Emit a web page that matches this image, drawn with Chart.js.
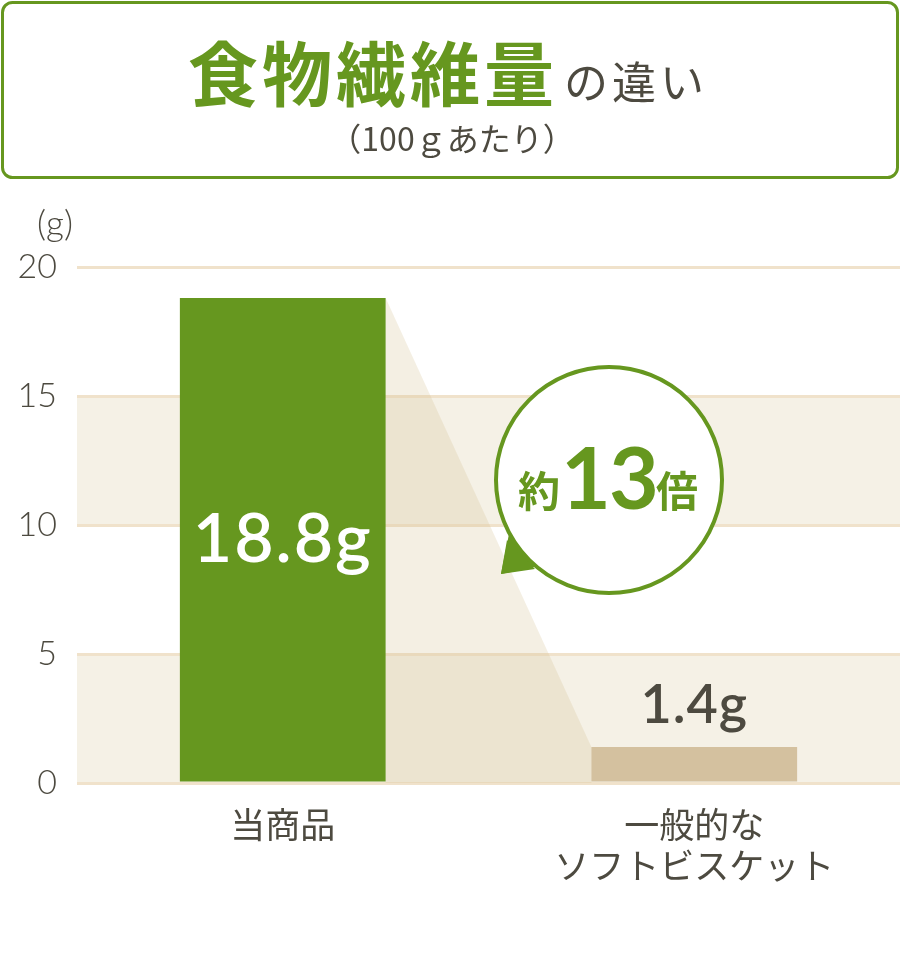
<!DOCTYPE html>
<html lang="ja">
<head>
<meta charset="utf-8">
<script src="https://cdn.jsdelivr.net/npm/chart.js@4"></script>
<style>
  html, body { margin: 0; padding: 0; background: #fff; }
  #wrap { width: 900px; height: 960px; }
</style>
</head>
<body>
<div id="wrap"><canvas id="chart" width="900" height="960"></canvas></div>
<script>
// data
const categories = ['当商品', ['一般的な', 'ソフトビスケット']];
const fiberValues = [18.8, 1.4];
const valueLabels = ['18.8g', '1.4g'];
const yTicks = [0, 5, 10, 15, 20];
const bandRanges = [[0, 5], [10, 15]];
const ratioParts = ['約', '13', '倍'];

const GREEN = '#66971f';
const GRAY = '#4d4a40';
const TAN = '#d4c19f';
const BAND = '#f5f1e6';
const GRID = '#f0e2cb';
const JP = '"Noto Sans CJK JP", "Noto Sans", sans-serif';
const NUM = 'Lato, "Noto Sans", sans-serif';

const decor = {
  id: 'decor',
  beforeDraw(chart) {
    const { ctx, chartArea: a, scales: { y } } = chart;
    ctx.save();
    // header box
    ctx.strokeStyle = GREEN;
    ctx.lineWidth = 3;
    ctx.beginPath();
    ctx.roundRect(2.5, 2.5, 895, 175, 10);
    ctx.stroke();

    ctx.textBaseline = 'alphabetic';
    ctx.textAlign = 'left';
    ctx.fillStyle = GREEN;
    ctx.font = 'bold 70px ' + JP;
    ctx.letterSpacing = '4px';
    ctx.fillText('食物繊維量', 188, 101);
    ctx.fillStyle = GRAY;
    ctx.font = '44px ' + JP;
    ctx.letterSpacing = '4px';
    ctx.fillText('の違い', 564, 99);
    ctx.letterSpacing = '0px';
    ctx.textAlign = 'center';
    ctx.font = '32px ' + JP;
    ctx.fillText('（100ｇあたり）', 452, 151);

    // unit
    ctx.font = '300 35px ' + NUM;
    ctx.textAlign = 'right';
    ctx.fillText('(g)', 73, 236);

    // alternating bands
    ctx.fillStyle = BAND;
    bandRanges.forEach(([lo, hi]) => {
      const top = y.getPixelForValue(hi), bot = y.getPixelForValue(lo);
      ctx.fillRect(a.left, top, a.right - a.left, bot - top);
    });
    ctx.restore();
  },
  beforeDatasetsDraw(chart) {
    const { ctx, scales: { y } } = chart;
    const bars = chart.getDatasetMeta(0).data;
    const b0 = bars[0], b1 = bars[1];
    const base = y.getPixelForValue(0);
    ctx.save();
    ctx.fillStyle = 'rgba(212,190,145,0.25)';
    ctx.beginPath();
    ctx.moveTo(b0.x + b0.width / 2, b0.y);
    ctx.lineTo(b1.x - b1.width / 2, b1.y);
    ctx.lineTo(b1.x - b1.width / 2, base);
    ctx.lineTo(b0.x + b0.width / 2, base);
    ctx.closePath();
    ctx.fill();
    ctx.restore();
  },
  afterDatasetsDraw(chart) {
    const { ctx, chartArea: a } = chart;
    const bars = chart.getDatasetMeta(0).data;
    ctx.save();
    // value labels
    ctx.textAlign = 'center';
    ctx.textBaseline = 'alphabetic';
    ctx.fillStyle = '#fff';
    ctx.font = '600 68px ' + NUM;
    ctx.letterSpacing = '2px';
    ctx.fillText(valueLabels[0], bars[0].x, 562);
    ctx.fillStyle = GRAY;
    ctx.font = '600 54px ' + NUM;
    ctx.letterSpacing = '1px';
    ctx.fillText(valueLabels[1], bars[1].x, 723);
    ctx.letterSpacing = '0px';

    // speech bubble
    const cx = a.left + 532, cy = 480, r = 113;
    ctx.fillStyle = GREEN;
    ctx.beginPath();
    ctx.moveTo(501, 574);
    ctx.lineTo(509, 534);
    ctx.lineTo(540, 566);
    ctx.closePath();
    ctx.fill();
    ctx.beginPath();
    ctx.arc(cx, cy, r, 0, Math.PI * 2);
    ctx.fillStyle = '#fff';
    ctx.fill();
    ctx.lineWidth = 4;
    ctx.strokeStyle = GREEN;
    ctx.stroke();
    // cover the join so the tail blends with the ring
    ctx.fillStyle = GREEN;
    ctx.beginPath();
    ctx.moveTo(501, 574);
    ctx.lineTo(507, 540);
    ctx.lineTo(518, 553);
    ctx.lineTo(535, 569);
    ctx.closePath();
    ctx.fill();

    ctx.fillStyle = GREEN;
    ctx.textAlign = 'left';
    ctx.font = 'bold 42px ' + JP;
    ctx.fillText(ratioParts[0], 518, 507);
    ctx.font = 'bold 86px ' + NUM;
    ctx.letterSpacing = '-2px';
    ctx.fillText(ratioParts[1], 561, 509);
    ctx.letterSpacing = '0px';
    ctx.font = 'bold 42px ' + JP;
    ctx.fillText(ratioParts[2], 656, 507);
    ctx.restore();
  }
};

new Chart(document.getElementById('chart'), {
  type: 'bar',
  data: {
    labels: categories,
    datasets: [{
      data: fiberValues,
      backgroundColor: [GREEN, TAN],
      borderWidth: 0,
      categoryPercentage: 0.5,
      barPercentage: 1.0
    }]
  },
  options: {
    responsive: false,
    animation: false,
    devicePixelRatio: 1,
    layout: { padding: { top: 267, left: 0, right: 0, bottom: 0 } },
    plugins: { legend: { display: false }, tooltip: { enabled: false } },
    scales: {
      x: {
        afterFit: (s) => { s.height = 177; },
        grid: { display: false, drawTicks: false },
        border: { display: false },
        ticks: {
          color: GRAY,
          font: { family: JP, size: 35, lineHeight: 1.18 },
          padding: 21
        }
      },
      y: {
        min: 0,
        max: 20,
        afterFit: (s) => { s.width = 77; },
        afterBuildTicks: (s) => { s.ticks = yTicks.map(v => ({ value: v })); },
        grid: { color: GRID, lineWidth: 3, drawTicks: false },
        border: { display: false },
        ticks: {
          color: GRAY,
          font: { family: NUM, size: 34, weight: '300' },
          padding: 20
        }
      }
    }
  },
  plugins: [decor]
});
</script>
</body>
</html>
